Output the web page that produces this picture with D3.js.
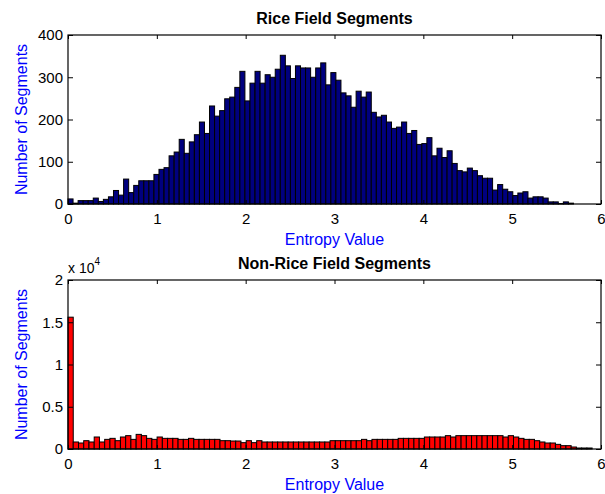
<!DOCTYPE html>
<html>
<head>
<meta charset="utf-8">
<script src="https://cdn.jsdelivr.net/npm/d3@7"></script>
<style>
body { margin:0; background:#fff; }
text { font-family: Arial, "Liberation Sans", sans-serif; }
</style>
</head>
<body>
<div id="divForChart"></div>
<script>
// histogram counts, 100 bins each
var riceCounts = [12,2,8,8,8,14,6,11,17,32,
	21,59,27,44,55,55,55,70,82,86,
	114,123,153,120,147,164,194,167,232,208,
	221,249,253,276,314,244,286,314,286,306,
	300,319,352,327,297,327,322,322,300,322,
	334,282,311,293,263,256,229,267,253,265,
	217,206,210,194,179,182,194,167,174,141,
	143,157,114,132,110,126,96,79,76,85,
	79,67,61,61,33,46,35,29,20,26,
	29,14,17,17,14,5,5,1,5,2];
var riceMax = 5.69;

var nonRiceCounts = [15600,830,710,985,830,1420,830,1140,1260,985,
	1420,1580,1140,1730,1580,1260,1140,1420,1260,1260,
	1260,1140,1140,1260,1140,1140,1140,1140,1140,985,
	985,945,945,750,985,750,985,830,830,830,
	830,830,830,830,830,830,830,830,830,830,
	985,985,985,985,985,985,1140,985,1140,1140,
	1140,1140,1140,1260,1260,1260,1260,1260,1420,1420,
	1420,1420,1580,1420,1580,1580,1580,1580,1580,1580,
	1580,1580,1580,1420,1580,1420,1260,1140,1140,985,
	830,710,710,550,395,395,236,118,118,118];
var nonRiceMax = 5.9;

var xTicks = [0,1,2,3,4,5,6];
var riceYTicks = [0,100,200,300,400];
var nonRiceYTicks = [0,5000,10000,15000,20000];
var nonRiceYLabels = ["0","0.5","1","1.5","2"];

var svgWidth = 605;
var svgHeight = 494;
var axLeft = 68;
var axRight = 601;

var svg = d3.select("#divForChart").append("svg")
	.attr("width", svgWidth)
	.attr("height", svgHeight);

function drawHist(top, bottom, counts, maxVal, yMax, yTicks, yFmt, fill, title)
{
	var x = d3.scaleLinear().domain([0,6]).range([axLeft,axRight]);
	var y = d3.scaleLinear().domain([0,yMax]).range([bottom,top]);
	var binW = maxVal/counts.length;
	var g = svg.append("g");

	g.selectAll("rect.bar").data(counts).enter().append("rect")
		.attr("class","bar")
		.attr("x", function(d,i){ return x(i*binW); })
		.attr("width", function(d,i){ return x((i+1)*binW)-x(i*binW); })
		.attr("y", function(d){ return y(d); })
		.attr("height", function(d){ return bottom-y(d); })
		.attr("fill", fill)
		.attr("stroke","black")
		.attr("stroke-width",1);

	// box
	g.append("rect")
		.attr("x",axLeft).attr("y",top)
		.attr("width",axRight-axLeft).attr("height",bottom-top)
		.attr("fill","none").attr("stroke","black").attr("stroke-width",1.2);

	var xb = g.append("g").attr("transform","translate(0,"+bottom+")")
		.call(d3.axisBottom(x).tickValues(xTicks).tickSizeInner(-4).tickSizeOuter(0).tickPadding(9.5).tickFormat(d3.format("d")));
	var xt = g.append("g").attr("transform","translate(0,"+top+")")
		.call(d3.axisTop(x).tickValues(xTicks).tickSizeInner(-4).tickSizeOuter(0).tickFormat(""));
	var yl = g.append("g").attr("transform","translate("+axLeft+",0)")
		.call(d3.axisLeft(y).tickValues(yTicks).tickSizeInner(-5).tickSizeOuter(0).tickPadding(5).tickFormat(yFmt));
	var yr = g.append("g").attr("transform","translate("+axRight+",0)")
		.call(d3.axisRight(y).tickValues(yTicks).tickSizeInner(-5).tickSizeOuter(0).tickFormat(""));

	[xb,xt,yl,yr].forEach(function(a){
		a.select(".domain").remove();
		a.selectAll("line").attr("stroke","black");
		a.selectAll("text").attr("fill","black")
			.style("font-size","15px")
			.style("font-family","Arial, 'Liberation Sans', sans-serif");
	});

	g.append("text")
		.text(title)
		.attr("x",(axLeft+axRight)/2)
		.attr("y",top-11)
		.attr("text-anchor","middle")
		.style("font-weight","bold")
		.style("font-size","16px");

	g.append("text")
		.text("Entropy Value")
		.attr("x",(axLeft+axRight)/2)
		.attr("y",bottom+41)
		.attr("text-anchor","middle")
		.attr("fill","#0000ff")
		.style("font-size","16px");

	g.append("text")
		.text("Number of Segments")
		.attr("transform","translate(27,"+((top+bottom)/2)+") rotate(-90)")
		.attr("text-anchor","middle")
		.attr("fill","#0000ff")
		.style("font-size","16px");
	return g;
}

drawHist(35, 204, riceCounts, riceMax, 400, riceYTicks, d3.format("d"), "#00007f", "Rice Field Segments");

var g2 = drawHist(280, 449, nonRiceCounts, nonRiceMax, 20000, nonRiceYTicks,
	function(d,i){ return nonRiceYLabels[i]; }, "#ff0000", "Non-Rice Field Segments");

// exponent label
var expo = g2.append("text")
	.attr("x",axLeft)
	.attr("y",273)
	.style("font-size","14px");
expo.append("tspan").text("x 10");
expo.append("tspan").text("4").attr("dy",-8).style("font-size","10px");
</script>
</body>
</html>
